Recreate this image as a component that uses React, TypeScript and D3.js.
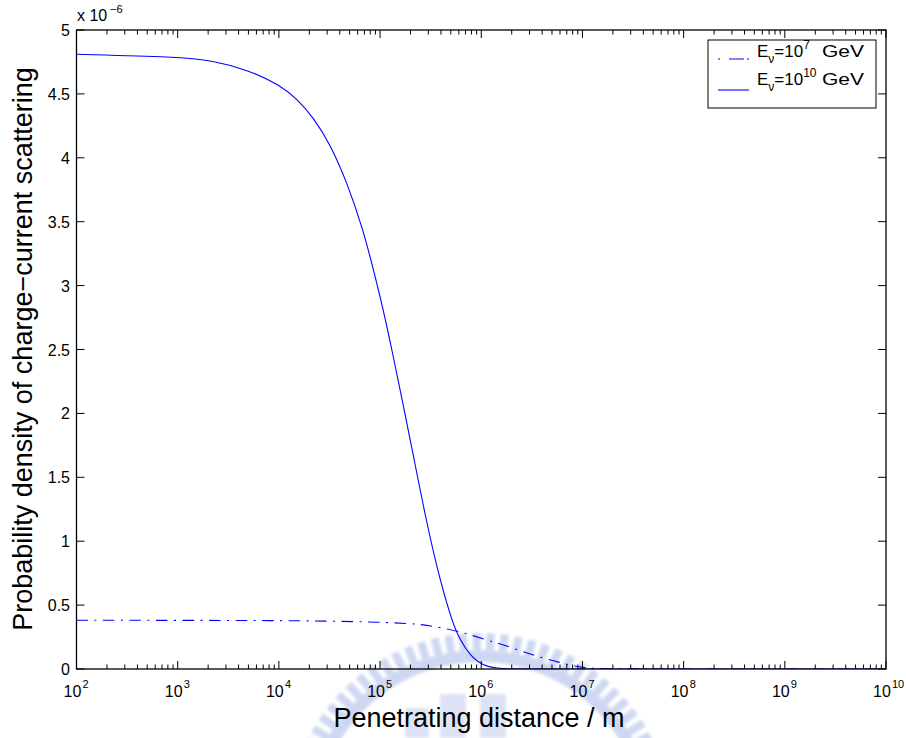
import React from "react";
import * as d3 from "d3";

// Penetrating distance (m) and probability density (×1e-6)
const solidDist = [1e2, 1e3, 2.23e3, 4.84e3, 1.03e4, 1.51e4, 2.17e4, 3.2e4, 4.71e4, 6.78e4, 8.51e4, 1.07e5, 1.34e5, 1.69e5, 2.12e5, 2.91e5, 3.92e5, 5.26e5, 6.17e5, 7.75e5, 1.04e6, 1.43e6, 2e6, 3e6, 1e7, 1e10];
const solidVal = [4.81, 4.79, 4.76, 4.69, 4.57, 4.46, 4.32, 4.11, 3.81, 3.44, 3.14, 2.82, 2.46, 2.07, 1.68, 1.13, 0.69, 0.35, 0.23, 0.105, 0.026, 0.005, 0.001, 0, 0, 0];
const dashDist = [1e2, 1e3, 1e4, 3e4, 1e5, 2e5, 2.91e5, 5.75e5, 1.14e6, 1.64e6, 2.83e6, 4.07e6, 6e6, 8e6, 1e7, 1.3e7, 2e7, 1e10];
const dashVal = [0.381, 0.381, 0.379, 0.375, 0.367, 0.355, 0.344, 0.30, 0.227, 0.19, 0.125, 0.085, 0.05, 0.026, 0.012, 0.004, 0, 0];
const xExponents = [2, 3, 4, 5, 6, 7, 8, 9, 10];
const yTicks = [0, 0.5, 1, 1.5, 2, 2.5, 3, 3.5, 4, 4.5, 5];
const yTickLabels = ["0", "0.5", "1", "1.5", "2", "2.5", "3", "3.5", "4", "4.5", "5"];
const legendLabels = [
  { exp: "7", dash: true },
  { exp: "10", dash: false },
];

const FONT = "'Liberation Sans', Arial, Helvetica, sans-serif";

function Watermark() {
  const cx = 480, cy = 826;
  const rOut = 193, rIn = 178, bandOut = 176, bandIn = 164;
  const teeth: React.ReactNode[] = [];
  for (let a = -64; a <= 64; a += 4.2) {
    teeth.push(
      <rect
        key={a}
        x={-4}
        y={-rOut}
        width={8}
        height={rOut - rIn + 2}
        transform={`translate(${cx},${cy}) rotate(${a})`}
      />
    );
  }
  const band = d3.arc()({
    innerRadius: bandIn,
    outerRadius: bandOut,
    startAngle: (-66 * Math.PI) / 180,
    endAngle: (66 * Math.PI) / 180,
  } as any)!;
  return (
    <g fill="#9fb0e4" opacity={0.5} filter="url(#wmblur)">
      {teeth}
      <path d={band} transform={`translate(${cx},${cy})`} />
      <rect x={405} y={708} width={24} height={30} opacity={0.7} />
      <rect x={440} y={694} width={26} height={44} opacity={0.7} />
      <rect x={480} y={694} width={26} height={44} opacity={0.7} />
    </g>
  );
}

export default function App() {
  const L = 76.5, R = 886, T = 30, B = 669;
  const x = d3.scaleLog().domain([1e2, 1e10]).range([L, R]);
  const y = d3.scaleLinear().domain([0, 5]).range([B, T]);
  const line = d3
    .line<[number, number]>()
    .x((d) => x(d[0]))
    .y((d) => y(d[1]))
    .curve(d3.curveBasis);
  const solidPath = line(solidDist.map((d, i) => [d, solidVal[i]]))!;
  const dashPath = line(dashDist.map((d, i) => [d, dashVal[i]]))!;

  const minor: number[] = [];
  for (let e = 2; e < 10; e++) for (let m = 2; m <= 9; m++) minor.push(m * Math.pow(10, e));

  const blue = "#0000ff";
  const dashArr = "11.5,6.5,2,6.5";

  return (
    <svg
      width={906}
      height={738}
      style={{ position: "absolute", left: 0, top: 0, background: "#fff" }}
      fontFamily={FONT}
    >
      <defs>
        <clipPath id="plotclip">
          <rect x={L} y={T} width={R - L} height={B - T} />
        </clipPath>
        <filter id="wmblur" x="-10%" y="-10%" width="120%" height="120%">
          <feGaussianBlur stdDeviation={1.4} />
        </filter>
      </defs>
      <rect x={0} y={0} width={906} height={738} fill="#fff" />
      <Watermark />
      <g clipPath="url(#plotclip)">
        <path d={dashPath} fill="none" stroke={blue} strokeWidth={1.1} strokeDasharray={dashArr} />
        <path d={solidPath} fill="none" stroke={blue} strokeWidth={1.1} />
      </g>
      {/* axes box */}
      <rect x={L} y={T} width={R - L} height={B - T} fill="none" stroke="#000" strokeWidth={1.3} />
      {/* x ticks */}
      {xExponents.map((e) => {
        const px = x(Math.pow(10, e));
        return (
          <g key={"xt" + e}>
            <line x1={px} x2={px} y1={B} y2={B - 8} stroke="#000" />
            <line x1={px} x2={px} y1={T} y2={T + 8} stroke="#000" />
            <text x={px - 4} y={697} fontSize={16} textAnchor="middle">
              10
            </text>
            <text x={px + 6} y={688} fontSize={11} textAnchor="start">
              {e}
            </text>
          </g>
        );
      })}
      {minor.map((v, i) => {
        const px = x(v);
        return (
          <g key={"mt" + i}>
            <line x1={px} x2={px} y1={B} y2={B - 4.5} stroke="#000" />
            <line x1={px} x2={px} y1={T} y2={T + 4.5} stroke="#000" />
          </g>
        );
      })}
      {/* y ticks */}
      {yTicks.map((v, i) => {
        const py = y(v);
        return (
          <g key={"yt" + i}>
            <line x1={L} x2={L + 8} y1={py} y2={py} stroke="#000" />
            <line x1={R} x2={R - 8} y1={py} y2={py} stroke="#000" />
            <text x={70} y={py + 6} fontSize={16} textAnchor="end">
              {yTickLabels[i]}
            </text>
          </g>
        );
      })}
      {/* exponent multiplier */}
      <text x={77} y={21} fontSize={16}>x 10</text>
      <text x={110} y={13} fontSize={11}>−6</text>
      {/* axis labels */}
      <text x={479} y={727} fontSize={27} textAnchor="middle">
        Penetrating distance / m
      </text>
      <text transform="translate(32,349) rotate(-90)" fontSize={27} textAnchor="middle">
        Probability density of charge−current scattering
      </text>
      {/* legend */}
      <rect x={708} y={40} width={168} height={68} fill="#fff" stroke="#000" strokeWidth={1} />
      {legendLabels.map((l, i) => {
        const ly = 59 + i * 31;
        const by = 57 + i * 27.5;
        return (
          <g key={"lg" + i}>
            <line
              x1={718}
              x2={749}
              y1={ly}
              y2={ly}
              stroke={blue}
              strokeWidth={1.1}
              strokeDasharray={l.dash ? "2,9,15,3,2,100" : undefined}
            />
            <text x={757} y={by} fontSize={17}>
              E
              <tspan fontSize={12} dy={6}>ν</tspan>
              <tspan dy={-6}>=10</tspan>
              <tspan fontSize={12} dy={-8}>{l.exp}</tspan>
            </text>
            <text x={822} y={by} fontSize={17} textLength={42} lengthAdjust="spacingAndGlyphs">
              GeV
            </text>
          </g>
        );
      })}
    </svg>
  );
}
